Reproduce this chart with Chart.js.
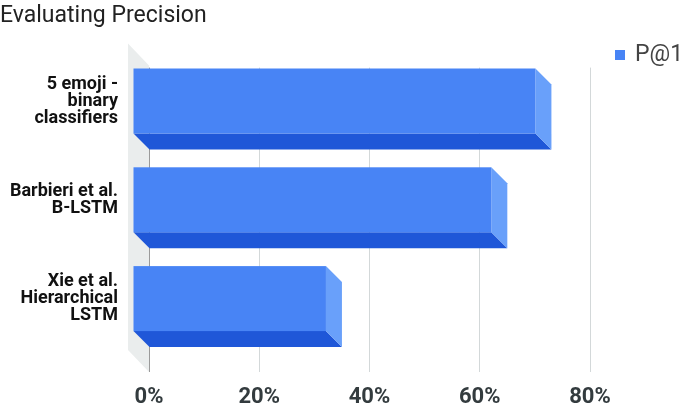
<!DOCTYPE html>
<html>
<head>
<meta charset="UTF-8">
<script src="https://cdn.jsdelivr.net/npm/chart.js@4.4.0/dist/chart.umd.min.js"></script>
<style>
  * { margin: 0; padding: 0; }
  body { background: #fff; width: 685px; height: 407px; overflow: hidden; }
  #wrap { position: relative; width: 685px; height: 407px; }
</style>
</head>
<body>
<div id="wrap"><canvas id="chart"></canvas></div>
<script>
  const categories = [
    ['5 emoji -', 'binary', 'classifiers'],
    ['Barbieri et al.', 'B-LSTM'],
    ['Xie et al.', 'Hierarchical', 'LSTM']
  ];
  const seriesName = 'P@1';
  const p1Values = [73, 65, 35];
  const xTicks = [0, 20, 40, 60, 80];

  const FRONT = '#4884f5';
  const BOTTOM = '#1f57d8';
  const SIDE = '#69a0fa';
  const DEPTH = 16;

  // fake 3D: back face = the Chart.js bar, front face shifted up-left
  const bars3d = {
    id: 'bars3d',
    beforeDraw(chart) {
      const { ctx, chartArea: a } = chart;
      ctx.save();
      ctx.fillStyle = '#eaeded';
      ctx.beginPath();
      ctx.moveTo(a.left, a.top - 2);
      ctx.lineTo(a.left - 21, a.top - 24);
      ctx.lineTo(a.left - 21, a.bottom - 14);
      ctx.lineTo(a.left, a.bottom + 8);
      ctx.closePath();
      ctx.fill();
      ctx.restore();
    },
    afterDatasetsDraw(chart) {
      const { ctx } = chart;
      const meta = chart.getDatasetMeta(0);
      ctx.save();
      meta.data.forEach(bar => {
        const { x, y, base, height } = bar.getProps(['x', 'y', 'base', 'height'], true);
        const t = y - height / 2, b = y + height / 2;
        const d = DEPTH;
        // bottom face
        ctx.fillStyle = BOTTOM;
        ctx.beginPath();
        ctx.moveTo(base - d, b - d);
        ctx.lineTo(x - d, b - d);
        ctx.lineTo(x, b);
        ctx.lineTo(base, b);
        ctx.closePath();
        ctx.fill();
        // side face
        ctx.fillStyle = SIDE;
        ctx.beginPath();
        ctx.moveTo(x - d, t - d);
        ctx.lineTo(x, t);
        ctx.lineTo(x, b);
        ctx.lineTo(x - d, b - d);
        ctx.closePath();
        ctx.fill();
        // front face
        ctx.fillStyle = FRONT;
        ctx.fillRect(base - d, t - d, x - base, height);
      });
      ctx.restore();
    },
    afterDraw(chart) {
      const { ctx } = chart;
      ctx.save();
      ctx.fillStyle = FRONT;
      ctx.fillRect(615, 50, 10, 10);
      ctx.fillStyle = '#444';
      ctx.font = '23px Roboto';
      ctx.textBaseline = 'middle';
      ctx.fillText(seriesName, 635, 55);
      ctx.restore();
    }
  };

  new Chart(document.getElementById('chart'), {
    type: 'bar',
    data: {
      labels: categories,
      datasets: [{
        label: seriesName,
        data: p1Values,
        backgroundColor: 'rgba(0,0,0,0)',
        barThickness: 65
      }]
    },
    options: {
      indexAxis: 'y',
      responsive: true,
      maintainAspectRatio: false,
      animation: false,
      layout: { padding: { left: 0, right: 95, top: 0, bottom: 0 } },
      plugins: {
        legend: { display: false },
        tooltip: { enabled: false },
        title: {
          display: true,
          text: 'Evaluating Precision',
          align: 'start',
          color: '#222',
          font: { family: 'Roboto', size: 23, weight: 'normal', lineHeight: 1.2 },
          padding: { top: 2, bottom: 38 }
        }
      },
      scales: {
        x: {
          min: 0,
          max: 80,
          afterBuildTicks(scale) { scale.ticks = xTicks.map(v => ({ value: v })); },
          afterFit(scale) { scale.height = 43; },
          grid: {
            color: ctx => ctx.index === 0 ? '#9a9a9a' : '#d3d8d9',
            tickLength: 8,
            drawTicks: true
          },
          border: { display: false },
          ticks: {
            padding: 12,
            color: '#333b3e',
            font: { family: 'Roboto', size: 22, weight: 'bold' },
            callback: v => v + '%'
          }
        },
        y: {
          afterFit(scale) {
            scale.width = 149;
            scale.paddingTop = 0;
            scale.paddingBottom = 0;
          },
          grid: { display: false, drawTicks: false },
          border: { display: false },
          ticks: {
            padding: 31,
            labelOffset: -16,
            color: '#111',
            font: { family: 'Roboto', size: 18, weight: 'bold', lineHeight: '17px' }
          }
        }
      }
    },
    plugins: [bars3d]
  });
</script>
</body>
</html>
